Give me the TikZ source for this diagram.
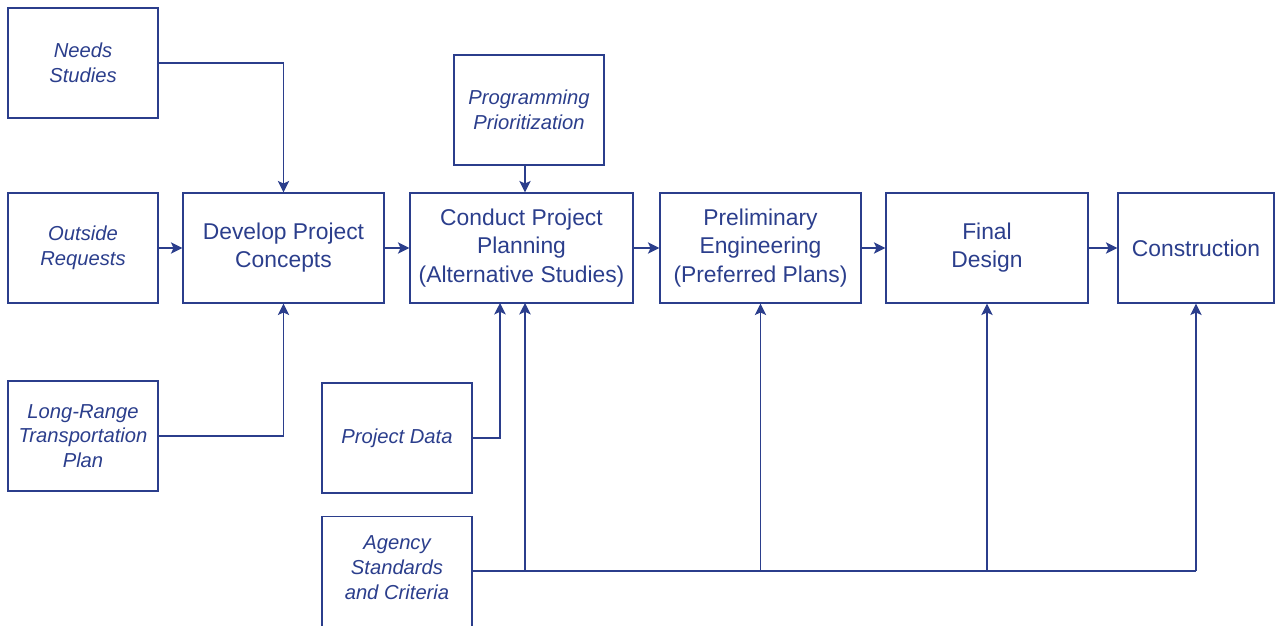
\documentclass[tikz,border=0pt]{standalone}
\usepackage{fontspec}
\setmainfont{Liberation Sans}
\usetikzlibrary{arrows.meta}
\definecolor{planblue}{RGB}{43,62,140}

\begin{document}
\begin{tikzpicture}
\tikzset{etape/.style={draw=planblue, line width=0.75pt, text=planblue, align=center, minimum height=2.2cm, inner sep=2pt, font=\fontsize{13}{16}\selectfont},
source/.style={etape, minimum width=3cm, font=\fontsize{11.5}{14}\selectfont\itshape},
fleche/.style={draw=planblue, line width=0.75pt, -{Stealth[length=6.5pt, width=6.5pt, inset=1.5pt]}},
trait/.style={draw=planblue, line width=0.75pt}}
\clip (0, 0) rectangle (25.5, -12.5);
\node[source] (needs) at (1.66, -1.26) {Needs\\Studies};
\node[source] (outside) at (1.66, -4.96) {Outside\\Requests};
\node[source] (longrange) at (1.66, -8.72) {Long-Range\\Transportation\\Plan};
\node[etape, minimum width=4.02cm] (develop) at (5.67, -4.96) {Develop Project\\Concepts};
\node[source] (prog) at (10.58, -2.2) {Programming\\Prioritization};
\node[etape, minimum width=4.46cm] (conduct) at (10.43, -4.96) {Conduct Project\\Planning\\(Alternative Studies)};
\node[etape, minimum width=4.02cm] (prelim) at (15.21, -4.96) {Preliminary\\Engineering\\(Preferred Plans)};
\node[etape, minimum width=4.04cm] (final) at (19.74, -4.96) {Final\\Design};
\node[etape, minimum width=3.12cm] (constr) at (23.92, -4.96) {Construction};
\node[source] (pdata) at (7.94, -8.76) {Project Data};
\node[source, anchor=north, minimum height=2.6cm, text depth=16pt] (agency) at (7.94, -10.32) {Agency\\Standards\\and Criteria};
\coordinate (agout) at ([yshift=-1.1cm]agency.north east);
\coordinate (pdin) at (10.0, -6.06);
\coordinate (agin) at (10.5, -6.06);
\coordinate (progout) at (10.5, -3.3);
\draw[fleche] (needs.east) -| (develop.north);
\draw[fleche] (outside) -- (develop);
\draw[fleche] (longrange.east) -| (develop.south);
\draw[fleche] (develop) -- (conduct);
\draw[fleche] (progout) -- (progout |- conduct.north);
\draw[fleche] (conduct) -- (prelim);
\draw[fleche] (prelim) -- (final);
\draw[fleche] (final) -- (constr);
\draw[fleche] (pdata.east) -| (pdin);
\draw[trait] (agout) -- (agout -| constr.south);
\draw[fleche] (agin |- agout) -- (agin);
\draw[fleche] (prelim.south |- agout) -- (prelim.south);
\draw[fleche] (final.south |- agout) -- (final.south);
\draw[fleche] (constr.south |- agout) -- (constr.south);
\end{tikzpicture}
\end{document}
